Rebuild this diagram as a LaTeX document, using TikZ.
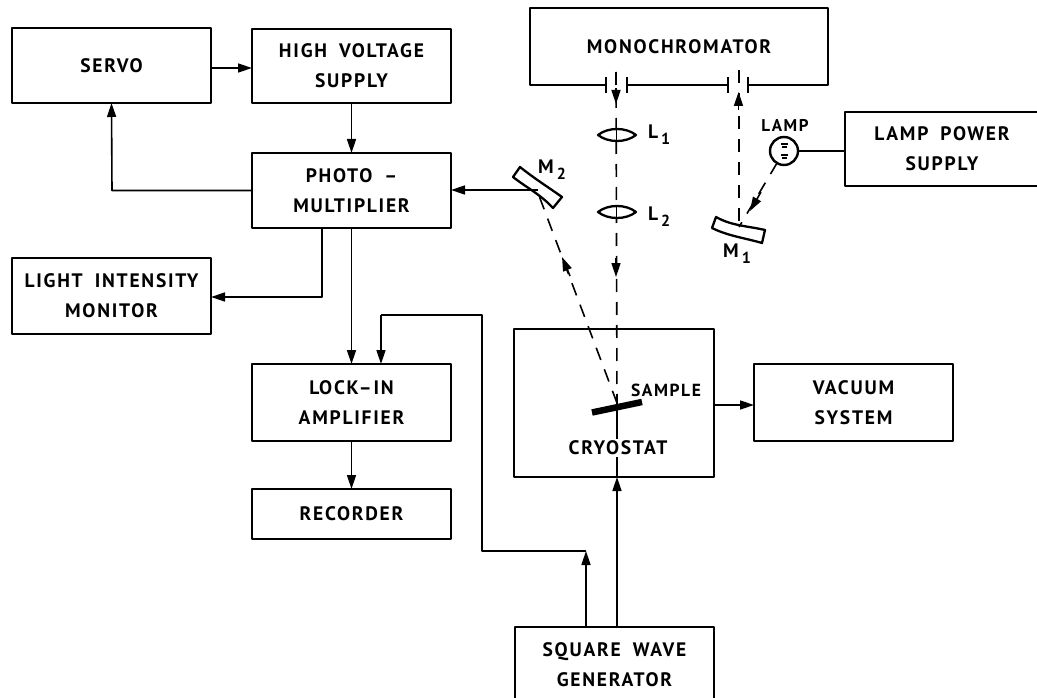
\documentclass[tikz,border=0pt]{standalone}
\usepackage{fontspec}
\setmainfont[LetterSpace=9,WordSpace=1.8]{PT Sans Bold}
\usetikzlibrary{arrows.meta,calc}
\tikzset{
  blk/.style={draw,line width=1.9pt,inner sep=0pt,outer sep=0pt,align=center,
    font=\fontsize{19.5}{30}\selectfont,line join=round},
  lab/.style={inner sep=0pt,outer sep=0pt,font=\fontsize{19.5}{30}\selectfont},
  smlab/.style={inner sep=0pt,outer sep=0pt,font=\fontsize{17.5}{20}\selectfont},
  wire/.style={line width=1.6pt,line join=round},
  arr/.style={wire,-{Triangle[length=14pt,width=9pt]}},
  beam/.style={line width=1.6pt,dash pattern=on 13pt off 10pt},
  optic/.style={draw,line width=2.3pt,line join=round},
}
\newcommand{\sbs}[1]{\kern3pt\raisebox{-6pt}{\fontsize{16}{16}\selectfont #1}}
\begin{document}
\begin{tikzpicture}[x=1pt,y=-1pt]
\path[use as bounding box] (0,0) rectangle (1037,698);
\clip (0,0) rectangle (1037,698);
\fill[white] (0,0) rectangle (1037,698);
% blocks
\node[blk,minimum width=199pt,minimum height=75pt] (servo) at (111.5,65.5) {SERVO};
\node[blk,minimum width=199pt,minimum height=74pt] (hv) at (351.5,66) {HIGH VOLTAGE\\SUPPLY};
\node[blk,minimum width=199pt,minimum height=75pt] (pm) at (351.5,190.5) {PHOTO --\\MULTIPLIER};
\node[blk,minimum width=199pt,minimum height=76pt] (lim) at (111.5,296) {LIGHT INTENSITY\\MONITOR};
\node[blk,minimum width=199pt,minimum height=77pt] (lock) at (351.5,402.5) {LOCK--IN\\AMPLIFIER};
\node[blk,minimum width=199pt,minimum height=50pt] (rec) at (351.5,514) {RECORDER};
\node[blk,minimum width=298pt,minimum height=77pt,draw=none] (mono) at (679,46.5) {MONOCHROMATOR};
\node[blk,minimum width=194pt,minimum height=74pt] (lps) at (942,149) {LAMP POWER\\SUPPLY};
\node[blk,minimum width=200pt,minimum height=148pt] (cryo) at (614,403) {};
\node[blk,minimum width=199pt,minimum height=77pt] (vac) at (853.5,402.5) {VACUUM\\SYSTEM};
\node[blk,minimum width=199pt,minimum height=76pt] (gen) at (614.5,665) {SQUARE WAVE\\GENERATOR};
% monochromator outline with slits
\draw[line width=1.9pt,line join=round]
  (606,85) -- (mono.south west) -- (mono.north west) -- (mono.north east) -- (mono.south east) -- (748,85);
\draw[line width=1.9pt] (627,85) -- (728,85);
\foreach \s in {606,627,728,748}
  \draw[line width=1.9pt] (\s,77) -- (\s,93);
% named points
\coordinate (mtwo) at (538,193);
\coordinate (mone) at (739,227);
\coordinate (samp) at (617,403);
\coordinate (bl) at (616,72);
\coordinate (br) at (739,70);
% lamp
\node[circle,draw,line width=2.4pt,minimum size=28pt,inner sep=0pt,outer sep=0pt] (lamp) at (784,151) {};
\draw[line width=1.2pt] (781,144)--(788,144) (782,147)--(787,147) (781,155)--(788,155) (782,158)--(787,158);
% beams
\draw[beam] (bl) -- (samp);
\draw[beam] (br) -- (mone);
\draw[beam] (samp) -- (mtwo);
\draw[beam] (lamp.south west) ++(3,2) -- (mone);
\draw[arr] (616,88) -- (616,104);
\draw[arr] (616,258) -- (616,277);
\draw[arr] (738.5,110) -- (738.5,92);
\draw[arr] (570,276) -- (562,257);
\draw[arr] (761,192) -- (750,211);
% lenses
\draw[optic,fill=white] (598,135) .. controls (608,127) and (626,127) .. (636,135) .. controls (626,143) and (608,143) .. (598,135) -- cycle;
\draw[optic,fill=white] (598,212) .. controls (608,204) and (626,204) .. (636,212) .. controls (626,220) and (608,220) .. (598,212) -- cycle;
\draw[wire] (616.5,130) -- (616.5,141);
\draw[wire] (616.5,207) -- (616.5,222);
% mirrors
\draw[optic] (513,177) -- (520,167) .. controls (535,179) and (548,187) .. (562,197) -- (553,208) .. controls (540,194) and (527,188) .. (513,177) -- cycle;
\draw[optic] (712,228) -- (716,217) .. controls (732,226) and (748,226) .. (765,230) -- (762,243) .. controls (745,238) and (728,236) .. (712,228) -- cycle;
% connectors
\draw[arr] (servo.east |- 0,68) -- (hv.west |- 0,68);
\draw[arr] (hv.south) -- (pm.north);
\draw[arr] (pm.west) -- (112,190.5) -- (servo.south);
\draw[arr] (322,228) |- (lim.east |- 0,297);
\draw[arr] (pm.south) -- (lock.north);
\draw[arr] (lock.south) -- (rec.north);
\draw[arr] (mtwo |- 0,190) -- (pm.east |- 0,190);
\draw[wire] (lamp.east) -- (lps.west |- lamp.east);
\draw[arr] (cryo.east |- 0,405) -- (vac.west |- 0,405);
\coordinate (s1) at (586,551);
\draw[arr] (gen.north -| s1) -- (s1);
\draw[wire] (s1) -- (482,551) -- (482,315) -- (381,315);
\draw[arr] (381,315) -- (lock.north -| 381,0);
\draw[arr] (gen.north -| 617,0) -- (cryo.south -| 617,0);
\draw[wire] (cryo.south -| 617,0) -- (samp);
% sample and labels
\draw[line width=6.5pt] (592,412.5) -- (642,402);
\node[lab,fill=white,inner xsep=1pt,inner ysep=2pt] (cryotxt) at (618,448) {CRYOSTAT};
\node[smlab] (samptxt) at (666,390) {SAMPLE};
\node[smlab,font=\fontsize{17}{20}\selectfont] (lamptxt) at (785,125) {LAMP};
\node[lab,anchor=west] (lone) at (648,135) {L\sbs{1}};
\node[lab,anchor=west] (ltwo) at (648,217) {L\sbs{2}};
\node[lab] (mtwotxt) at (552,170) {M\sbs{2}};
\node[lab] (monetxt) at (737,254) {M\sbs{1}};
\end{tikzpicture}
\end{document}
